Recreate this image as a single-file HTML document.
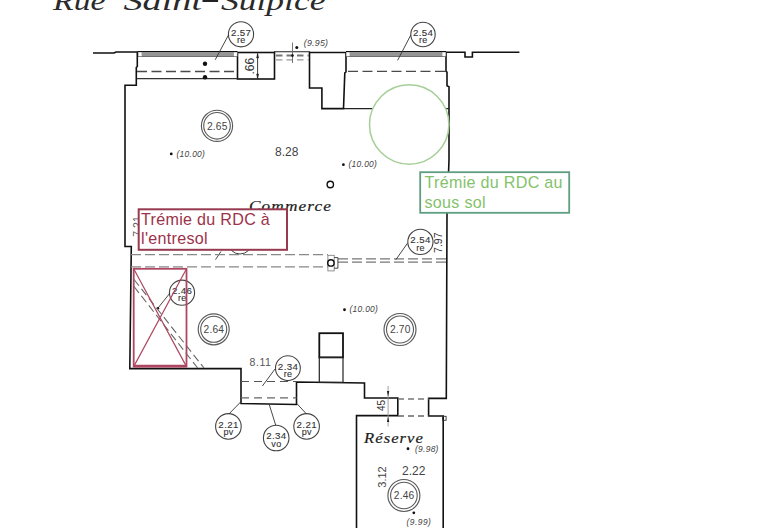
<!DOCTYPE html>
<html><head><meta charset="utf-8"><title>plan</title>
<style>html,body{margin:0;padding:0;background:#fff;width:768px;height:528px;overflow:hidden}svg{display:block}</style>
</head><body>
<svg width="768" height="528" viewBox="0 0 768 528" font-family='"Liberation Sans", sans-serif'>
<rect width="768" height="528" fill="#fff"/>
<g font-family='"Liberation Serif", serif' font-style="italic" fill="#2a2a2a" font-size="28">
<text x="53" y="9.8" textLength="52.5" lengthAdjust="spacingAndGlyphs">Rue</text>
<text x="123.5" y="9.8" textLength="78.5" lengthAdjust="spacingAndGlyphs">Saint</text>
<rect x="202.5" y="0" width="15.6" height="2" fill="#222"/>
<text x="221" y="9.8" textLength="104.5" lengthAdjust="spacingAndGlyphs">Sulpice</text>
</g>
<g fill="none" stroke="#111" stroke-width="1.6" stroke-linejoin="miter">
<path d="M93,53 L114,53 L116,52 L138,52"/>
<path d="M445,52.2 L465,52.2 L465,57 L472.4,57 L472.4,52.2 L519.4,52.2"/>
<path d="M137.3,52 L137.3,66.5 L136.3,67.5 L136.3,85.3 L125,85.3 L125,246.5 L131.3,246.5 L129.8,368.6 L241,368.6 L241,403.5 L296.5,404.5 L296.5,382 L364.5,383 L364.5,398 L397.8,398 L397.8,415.6 L356.5,415.6 L356.5,530"/>
<path d="M446,52.2 L446,71.4 L447,72.2 L447,85.8 L449,86.7 L449,160 L447,215 L446.3,398.4 L428.6,398.4 L428.6,416 L443.2,416 L443.2,530"/>
<rect x="237.5" y="52.5" width="37" height="26.5"/>
<path d="M309.5,52.5 L346,52.5 L346,72 L344.8,73 L343.5,108.6 L321.9,108.6 L321.9,88 L309.5,88 Z"/>
<rect x="319.3" y="333.2" width="23.7" height="24.2" stroke-width="1.8"/>
</g>
<rect x="319.3" y="357.4" width="23.7" height="25" fill="none" stroke="#222" stroke-width="1.2"/>
<rect x="138" y="52" width="99.5" height="4.4" fill="#959595"/>
<line x1="138" y1="51.5" x2="237.5" y2="51.5" stroke="#111" stroke-width="1.2"/>
<line x1="138" y1="56.5" x2="237.5" y2="56.5" stroke="#555" stroke-width="0.8"/>
<rect x="138.6" y="52.4" width="3" height="3.8" fill="#fff"/>
<rect x="233.9" y="52.4" width="3" height="3.8" fill="#fff"/>
<rect x="346" y="52" width="100" height="4.4" fill="#959595"/>
<line x1="346" y1="51.5" x2="446" y2="51.5" stroke="#111" stroke-width="1.2"/>
<line x1="346" y1="56.5" x2="446" y2="56.5" stroke="#555" stroke-width="0.8"/>
<rect x="346.6" y="52.4" width="3" height="3.8" fill="#fff"/>
<rect x="442.4" y="52.4" width="3" height="3.8" fill="#fff"/>
<line x1="137" y1="71.5" x2="237.5" y2="71.5" stroke="#4a4a4a" stroke-width="1.3" stroke-dasharray="10,4.5"/>
<line x1="137" y1="78.7" x2="237.5" y2="78.7" stroke="#333" stroke-width="1.2"/>
<line x1="348" y1="71.4" x2="446" y2="71.4" stroke="#4a4a4a" stroke-width="1.3" stroke-dasharray="10,4.5"/>
<line x1="344" y1="108.6" x2="449" y2="108.6" stroke="#222" stroke-width="1.2"/>
<line x1="274" y1="51.8" x2="310" y2="51.8" stroke="#222" stroke-width="1.1"/>
<line x1="276" y1="55.4" x2="309" y2="55.4" stroke="#777" stroke-width="2" stroke-dasharray="6.5,4"/>
<line x1="276" y1="59.9" x2="309" y2="59.9" stroke="#999" stroke-width="1.4" stroke-dasharray="6.5,4"/>
<line x1="292.5" y1="42.5" x2="292.5" y2="63" stroke="#666" stroke-width="0.9"/>
<circle cx="292.5" cy="55.6" r="1.3" fill="#111"/>
<circle cx="205" cy="63.8" r="2.2" fill="#111"/>
<circle cx="205" cy="77.2" r="2.2" fill="#111"/>
<line x1="257.6" y1="53.5" x2="257.6" y2="78.5" stroke="#222" stroke-width="0.9"/>
<path d="M256.6,58 L257.6,53.5 L258.6,58 Z M256.6,74 L257.6,78.5 L258.6,74 Z" fill="#222" stroke="#222" stroke-width="0.5"/>
<text x="0" y="0" font-family='"Liberation Sans", sans-serif' font-size="12" fill="#333" transform="translate(254.4,74.5) rotate(-90)">.66</text>
<circle cx="409.2" cy="124.5" r="39.7" fill="#fff" stroke="#a6cf98" stroke-width="1.5"/>
<g font-family='"Liberation Sans", sans-serif'>
<circle cx="241" cy="34.3" r="12.6" fill="none" stroke="#444" stroke-width="1.1"/>
<text x="241.2" y="35.699999999999996" font-size="9.7" letter-spacing="0.4" text-anchor="middle" fill="#333" stroke="#333" stroke-width="0.12">2.57</text>
<text x="241.2" y="42.9" font-size="9" letter-spacing="0.3" text-anchor="middle" fill="#333" stroke="#333" stroke-width="0.12">re</text>
<line x1="228.5" y1="35" x2="215.2" y2="59.8" stroke="#333" stroke-width="0.9"/>
<circle cx="423" cy="34.5" r="12.2" fill="none" stroke="#444" stroke-width="1.1"/>
<text x="423.2" y="35.9" font-size="9.7" letter-spacing="0.4" text-anchor="middle" fill="#333" stroke="#333" stroke-width="0.12">2.54</text>
<text x="423.2" y="43.1" font-size="9" letter-spacing="0.3" text-anchor="middle" fill="#333" stroke="#333" stroke-width="0.12">re</text>
<line x1="410.8" y1="35" x2="397.6" y2="60.4" stroke="#333" stroke-width="0.9"/>
<circle cx="296.8" cy="47.6" r="1.5" fill="#111"/>
<text x="303.8" y="45.5" font-size="8.8" font-style="italic" letter-spacing="0.25" fill="#444">(9.95)</text>
<circle cx="217" cy="125.8" r="15.6" fill="none" stroke="#5a5a5a" stroke-width="1.15"/>
<circle cx="217" cy="125.8" r="13.3" fill="none" stroke="#5a5a5a" stroke-width="1.1"/>
<text x="217.2" y="129.5" font-size="10.2" letter-spacing="0.2" text-anchor="middle" fill="#444">2.65</text>
<circle cx="171.25" cy="153.9" r="1.4" fill="#111"/>
<text x="176.5" y="156.60000000000002" font-size="8.4" font-style="italic" letter-spacing="0.3" fill="#444">(10.00)</text>
<text x="275" y="155.9" font-size="12" fill="#444">8.28</text>
<circle cx="343.4" cy="164.7" r="1.4" fill="#111"/>
<text x="348.5" y="167.4" font-size="8.4" font-style="italic" letter-spacing="0.3" fill="#444">(10.00)</text>
<circle cx="330.3" cy="184.5" r="3.2" fill="none" stroke="#111" stroke-width="1.4"/>
</g>
<text x="249" y="211" font-family='"Liberation Serif", serif' font-style="italic" font-size="15.5" fill="#1a1a1a" stroke="#1a1a1a" stroke-width="0.2" letter-spacing="1" textLength="83" lengthAdjust="spacingAndGlyphs">Commerce</text>
<circle cx="240" cy="242" r="12" fill="none" stroke="#444" stroke-width="1"/>
<line x1="221" y1="251.4" x2="215.5" y2="259.6" stroke="#333" stroke-width="0.9"/>
<line x1="131" y1="254.6" x2="328" y2="254.6" stroke="#888" stroke-width="1.2" stroke-dasharray="10,4"/>
<line x1="131" y1="266.9" x2="328" y2="266.9" stroke="#888" stroke-width="1.2" stroke-dasharray="10,4"/>
<line x1="338" y1="258.9" x2="446" y2="258.9" stroke="#777" stroke-width="1.3" stroke-dasharray="10,4"/>
<line x1="338" y1="262.1" x2="446" y2="262.1" stroke="#777" stroke-width="1.3" stroke-dasharray="10,4"/>
<rect x="327.9" y="255.3" width="6.3" height="15.6" fill="#fff" stroke="#777" stroke-width="0.8"/>
<path d="M334.2,257.6 L337.9,257.6 L337.9,268.2 L334.2,268.2" fill="none" stroke="#333" stroke-width="0.9"/>
<circle cx="330.9" cy="262.9" r="3.2" fill="none" stroke="#111" stroke-width="1.4"/>
<g font-family='"Liberation Sans", sans-serif'>
<circle cx="420.4" cy="241.9" r="12.6" fill="none" stroke="#444" stroke-width="1.1"/>
<text x="420.59999999999997" y="243.3" font-size="9.7" letter-spacing="0.4" text-anchor="middle" fill="#333" stroke="#333" stroke-width="0.12">2.54</text>
<text x="420.59999999999997" y="250.5" font-size="9" letter-spacing="0.3" text-anchor="middle" fill="#333" stroke="#333" stroke-width="0.12">re</text>
<line x1="407.5" y1="243.2" x2="395.8" y2="259.8" stroke="#333" stroke-width="0.9"/>
<text x="0" y="0" font-size="10.5" fill="#333" text-anchor="middle" transform="translate(442,242.7) rotate(-90)">7.97</text>
<text x="0" y="0" font-size="10.5" fill="#555" text-anchor="middle" transform="translate(140.6,226.5) rotate(-90)">7.21</text>
</g>
<rect x="138.7" y="209.3" width="148.3" height="40.5" fill="#fff" stroke="#973a50" stroke-width="2"/>
<g font-family='"Liberation Sans", sans-serif' font-size="16.1" letter-spacing="0.3" fill="#9c3249">
<text x="141" y="225.2">Trémie du RDC à</text>
<text x="141" y="244.4">l'entresol</text>
</g>
<rect x="420.2" y="172.2" width="149" height="40.6" fill="#fff" stroke="#5f9e80" stroke-width="1.8"/>
<g font-family='"Liberation Sans", sans-serif' font-size="16.1" letter-spacing="0.3" fill="#84c26c">
<text x="424.5" y="188">Trémie du RDC au</text>
<text x="424.5" y="207.6">sous sol</text>
</g>
<g font-family='"Liberation Sans", sans-serif'>
<circle cx="182" cy="292.7" r="12.6" fill="none" stroke="#444" stroke-width="1.1"/>
<text x="182.2" y="294.09999999999997" font-size="9.7" letter-spacing="0.4" text-anchor="middle" fill="#333" stroke="#333" stroke-width="0.12">2.46</text>
<text x="182.2" y="301.3" font-size="9" letter-spacing="0.3" text-anchor="middle" fill="#333" stroke="#333" stroke-width="0.12">re</text>
<line x1="170" y1="293" x2="157.7" y2="308.4" stroke="#333" stroke-width="0.9"/>
<circle cx="158" cy="308.2" r="1.2" fill="#111"/>
</g>
<line x1="134" y1="279.5" x2="204" y2="368" stroke="#666" stroke-width="1.1" stroke-dasharray="8,4"/>
<line x1="134" y1="286.5" x2="197.6" y2="368" stroke="#666" stroke-width="1.1" stroke-dasharray="8,4"/>
<g fill="none" stroke="#ad4862" stroke-width="1.8">
<rect x="133.7" y="268.8" width="52.8" height="97.8"/>
<path d="M133.7,268.8 L186.5,366.6 M186.5,268.8 L133.7,366.6" stroke-width="1.2"/>
<line x1="133.7" y1="366" x2="186.5" y2="366" stroke-width="2.6"/>
</g>
<g font-family='"Liberation Sans", sans-serif'>
<circle cx="213.7" cy="329.3" r="15.5" fill="none" stroke="#5a5a5a" stroke-width="1.15"/>
<circle cx="213.7" cy="329.3" r="13" fill="none" stroke="#5a5a5a" stroke-width="1.1"/>
<text x="213.89999999999998" y="333.0" font-size="10.2" letter-spacing="0.2" text-anchor="middle" fill="#444">2.64</text>
<circle cx="344.5" cy="309.75" r="1.4" fill="#111"/>
<text x="349.5" y="312.40000000000003" font-size="8.4" font-style="italic" letter-spacing="0.3" fill="#444">(10.00)</text>
<circle cx="400" cy="329.5" r="16" fill="none" stroke="#5a5a5a" stroke-width="1.15"/>
<circle cx="400" cy="329.5" r="13.5" fill="none" stroke="#5a5a5a" stroke-width="1.1"/>
<text x="400.2" y="333.2" font-size="10.2" letter-spacing="0.2" text-anchor="middle" fill="#444">2.70</text>
<text x="249.5" y="365.5" font-size="10.5" letter-spacing="0.6" fill="#555">8.11</text>
<circle cx="287.9" cy="368.2" r="12.4" fill="none" stroke="#444" stroke-width="1.1"/>
<text x="288.09999999999997" y="369.59999999999997" font-size="9.7" letter-spacing="0.4" text-anchor="middle" fill="#333" stroke="#333" stroke-width="0.12">2.34</text>
<text x="288.09999999999997" y="376.8" font-size="9" letter-spacing="0.3" text-anchor="middle" fill="#333" stroke="#333" stroke-width="0.12">re</text>
<line x1="275" y1="369" x2="262.4" y2="386" stroke="#333" stroke-width="0.9"/>
<circle cx="228.4" cy="426.4" r="12.8" fill="none" stroke="#444" stroke-width="1.1"/>
<text x="228.6" y="427.79999999999995" font-size="9.7" letter-spacing="0.4" text-anchor="middle" fill="#333" stroke="#333" stroke-width="0.12">2.21</text>
<text x="228.6" y="435.0" font-size="9" letter-spacing="0.3" text-anchor="middle" fill="#333" stroke="#333" stroke-width="0.12">pv</text>
<circle cx="276.2" cy="438" r="12.8" fill="none" stroke="#444" stroke-width="1.1"/>
<text x="276.4" y="439.4" font-size="9.7" letter-spacing="0.4" text-anchor="middle" fill="#333" stroke="#333" stroke-width="0.12">2.34</text>
<text x="276.4" y="446.6" font-size="9" letter-spacing="0.3" text-anchor="middle" fill="#333" stroke="#333" stroke-width="0.12">vo</text>
<circle cx="306.6" cy="426.4" r="12.8" fill="none" stroke="#444" stroke-width="1.1"/>
<text x="306.8" y="427.79999999999995" font-size="9.7" letter-spacing="0.4" text-anchor="middle" fill="#333" stroke="#333" stroke-width="0.12">2.21</text>
<text x="306.8" y="435.0" font-size="9" letter-spacing="0.3" text-anchor="middle" fill="#333" stroke="#333" stroke-width="0.12">pv</text>
<path d="M240.6,402 L228.8,414.1 M269.4,405 L275.8,425.5 M296.8,403.5 L306.6,414.1" stroke="#333" stroke-width="0.9"/>
</g>
<line x1="241" y1="381.5" x2="296.5" y2="381.5" stroke="#555" stroke-width="1.2" stroke-dasharray="8,5"/>
<line x1="241" y1="397.9" x2="296.5" y2="397.9" stroke="#666" stroke-width="1.3" stroke-dasharray="8,5"/>
<line x1="398" y1="399" x2="428.6" y2="399" stroke="#777" stroke-width="1.3" stroke-dasharray="6,4"/>
<line x1="398" y1="416" x2="428.6" y2="416" stroke="#666" stroke-width="1.3" stroke-dasharray="6,4"/>
<rect x="442.5" y="416.3" width="3.6" height="4" fill="none" stroke="#333" stroke-width="0.9"/>
<line x1="388.1" y1="386" x2="388.1" y2="426.5" stroke="#999" stroke-width="0.9"/>
<path d="M386.9,391 L389.3,391 L388.1,396.8 Z M386.9,422 L389.3,422 L388.1,416.4 Z" fill="#222"/>
<text x="0" y="0" font-family='"Liberation Sans", sans-serif' font-size="10" fill="#333" text-anchor="middle" transform="translate(385,405.5) rotate(-90)">45</text>
<text x="364" y="442.5" font-family='"Liberation Serif", serif' font-style="italic" font-size="15.5" fill="#1a1a1a" stroke="#1a1a1a" stroke-width="0.2" letter-spacing="1" textLength="60" lengthAdjust="spacingAndGlyphs">Réserve</text>
<g font-family='"Liberation Sans", sans-serif'>
<circle cx="408" cy="448.75" r="1.4" fill="#111"/>
<text x="415" y="452.40000000000003" font-size="8.4" font-style="italic" letter-spacing="0.3" fill="#444">(9.98)</text>
<text x="0" y="0" font-size="11" fill="#444" text-anchor="middle" transform="translate(386,477) rotate(-90)">3.12</text>
<text x="402" y="475" font-size="12" fill="#444">2.22</text>
<circle cx="403.9" cy="495.5" r="16" fill="none" stroke="#5a5a5a" stroke-width="1.15"/>
<circle cx="403.9" cy="495.5" r="13.3" fill="none" stroke="#5a5a5a" stroke-width="1.1"/>
<text x="404.09999999999997" y="499.2" font-size="10.2" letter-spacing="0.2" text-anchor="middle" fill="#444">2.46</text>
<circle cx="413.8" cy="512.8" r="1.4" fill="#111"/>
<text x="406.5" y="524.9" font-size="8.4" font-style="italic" letter-spacing="0.5" fill="#444">(9.99)</text>
</g>
</svg>
</body></html>
